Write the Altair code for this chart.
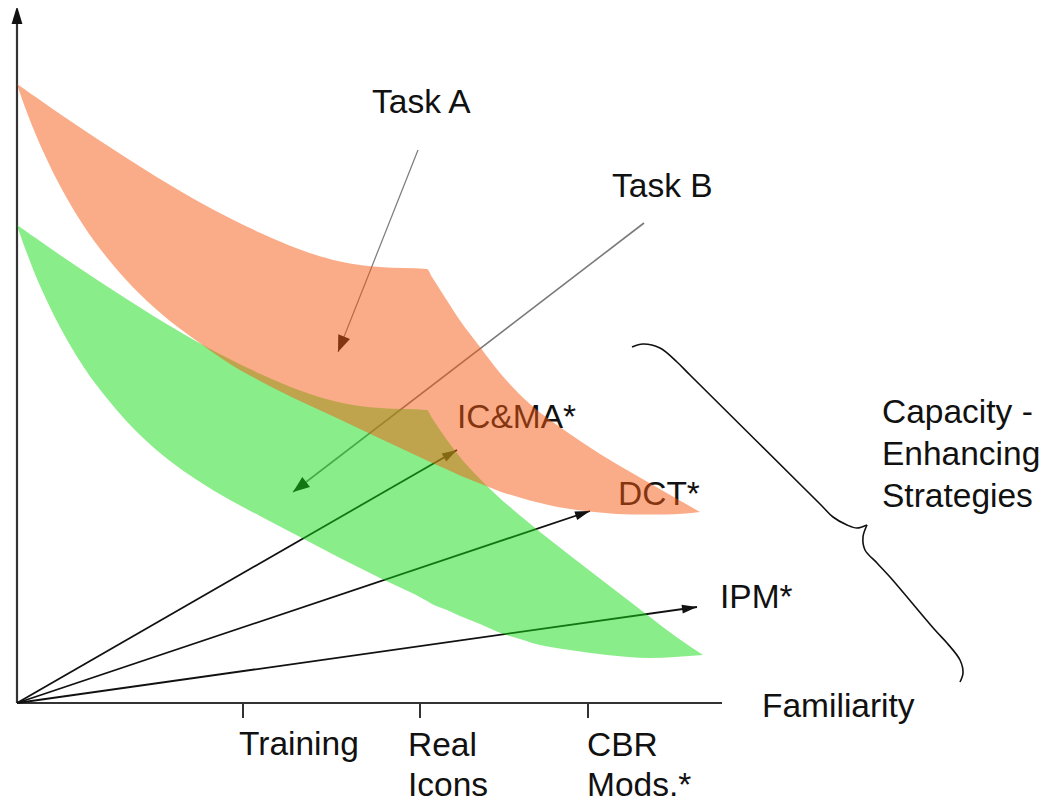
import math
import altair as alt
import pandas as pd

# ---------------- data (chart units: familiarity -> x, demand -> y) ----------------
orange_x = [0, 5, 11, 18, 30, 43, 66, 93, 123, 153, 180, 213, 243, 283, 323, 363, 410, 415,
            428, 443, 463, 483, 513, 550, 583, 616, 648, 683]
orange_hi = [619, 615.5, 611.3, 606.4, 598, 589.1, 573.5, 555.7, 536.5, 517.9, 502.2, 484.7, 470.3,
             453.5, 441.5, 435.9, 434, 426, 405.5, 382.5, 356, 330, 299, 271, 249, 229.5, 211, 191]
orange_lo = [619, 604, 587.8, 570.3, 543.3, 517.3, 478.2, 441.7, 408.7, 382, 362, 339, 322,
             302, 283.5, 264.5, 242.5, 240.2, 234.4, 227.6, 219.6, 211.6, 202.6, 194.5, 190.5, 188.5,
             188.5, 191]

green_x = [0, 5, 11, 18, 30, 43, 66, 93, 123, 153, 180, 213, 243, 283, 323, 363, 410, 415, 430,
           443, 463, 481, 503, 523, 553, 590, 633, 658, 686]
green_hi = [478, 474.5, 470.3, 465.4, 457, 448.1, 432.5, 414.7, 395.5, 376.9, 361.2, 343.7, 329.3,
            312.5, 300.5, 294.9, 293, 285, 263, 246, 224, 206.5, 187.5, 171, 147.5, 119, 86, 67, 48]
green_lo = [478, 463, 447, 429, 402, 376, 337, 301, 268, 242, 223, 203, 187, 166, 145, 125, 102, 99,
            93, 87, 79, 71, 64, 58, 53, 48, 45, 46, 48]

strategy_names = ["IC&MA*", "DCT*", "IPM*"]
strategy_tip_x = [440, 573, 680]
strategy_tip_y = [253, 192, 96]
strategy_label_x = [440, 601, 703]
strategy_label_y = [275, 198, 95]

task_names = ["Task A", "Task B"]
task_start_x = [401, 627]
task_start_y = [553, 480]
task_tip_x = [321, 276]
task_tip_y = [351, 211]
task_label_x = [355, 595]
task_label_y = [590, 506]

tick_labels = ["Training", "Real\nIcons", "CBR\nMods.*"]
tick_pos = [226, 403, 571]
tick_label_x = [222, 391, 570]
tick_label_y = [-52, -53, -53]

axis_x_end = 705
axis_y_end = 679
axis_y_tip = 697

brace_upper_x = [615, 626, 643, 660, 673, 803, 816, 830, 840, 850]
brace_upper_y = [356, 359, 355, 341, 328, 199, 186, 178, 175, 178]
brace_lower_x = [850, 846, 848, 860, 873, 918, 930, 943, 946, 943]
brace_lower_y = [178, 166, 153, 140, 126, 73, 60, 43, 30, 21]

side_text = "Capacity -\nEnhancing\nStrategies"
side_x, side_y = 865, 280
axis_title = "Familiarity"
axis_title_x, axis_title_y = 745, -14

# ---------------- helpers ----------------
FONT = "Liberation Sans"
FS = 33.5
xs = alt.Scale(domain=[-9, 1024], nice=False, zero=False)
ys = alt.Scale(domain=[-96, 695], nice=False, zero=False)
X = lambda f="x": alt.X(f"{f}:Q", scale=xs, axis=None)
Y = lambda f="y": alt.Y(f"{f}:Q", scale=ys, axis=None)


def heading(x0, y0, x1, y1):
    return math.degrees(math.atan2(x1 - x0, y1 - y0)) % 360


HEAD = "M0,0L-0.3,1L0.3,1Z"
HEAD_WIDE = "M0,0L-0.38,1L0.38,1Z"

# ---------------- axes ----------------
axes_df = pd.DataFrame({"x": [0, 0], "y": [0, 0], "x2": [axis_x_end, 0], "y2": [0, axis_y_end]})
axes = alt.Chart(axes_df).mark_rule(color="#333333", strokeWidth=2.2).encode(
    x=X(), y=Y(), x2="x2:Q", y2="y2:Q")

yhead_df = pd.DataFrame({"x": [0], "y": [axis_y_tip], "a": [0.0]})
yhead = alt.Chart(yhead_df).mark_point(shape=HEAD, filled=True, size=1296, color="#111111",
                                       opacity=1, strokeWidth=0).encode(
    x=X(), y=Y(), angle=alt.Angle("a:Q", scale=None))

ticks_df = pd.DataFrame({"x": tick_pos, "y": [0] * 3, "y2": [-15] * 3})
ticks = alt.Chart(ticks_df).mark_rule(color="#333333", strokeWidth=2).encode(
    x=X(), y=Y(), y2="y2:Q")

tick_text_df = pd.DataFrame({"x": tick_label_x, "y": tick_label_y, "t": tick_labels})
tick_text = alt.Chart(tick_text_df).mark_text(
    align="left", baseline="alphabetic", font=FONT, fontSize=FS, lineBreak="\n",
    lineHeight=40, color="#111111").encode(x=X(), y=Y(), text="t:N")

# ---------------- strategy arrows ----------------
s_df = pd.DataFrame({"x": [0] * 3, "y": [0] * 3, "x2": strategy_tip_x, "y2": strategy_tip_y})
s_lines = alt.Chart(s_df).mark_rule(color="#111111", strokeWidth=1.8).encode(
    x=X(), y=Y(), x2="x2:Q", y2="y2:Q")
s_head_df = pd.DataFrame({"x": strategy_tip_x, "y": strategy_tip_y,
                          "a": [heading(0, 0, a, b) for a, b in zip(strategy_tip_x, strategy_tip_y)]})
s_heads = alt.Chart(s_head_df).mark_point(shape=HEAD, filled=True, size=900, color="#111111",
                                          opacity=1, strokeWidth=0).encode(
    x=X(), y=Y(), angle=alt.Angle("a:Q", scale=None))
s_text_df = pd.DataFrame({"x": strategy_label_x, "y": strategy_label_y, "t": strategy_names})
s_text = alt.Chart(s_text_df).mark_text(
    align="left", baseline="alphabetic", font=FONT, fontSize=FS, color="#111111").encode(
    x=X(), y=Y(), text="t:N")

# ---------------- task arrows ----------------
t_df = pd.DataFrame({"x": task_start_x, "y": task_start_y, "x2": task_tip_x, "y2": task_tip_y,
                     "w": [1.2, 1.6]})
t_lines = alt.Chart(t_df).mark_rule(color="#7a7a7a").encode(
    x=X(), y=Y(), x2="x2:Q", y2="y2:Q", strokeWidth=alt.StrokeWidth("w:Q", scale=None))
t_head_df = pd.DataFrame({"x": task_tip_x, "y": task_tip_y,
                          "a": [heading(a, b, c, d) for a, b, c, d in
                                zip(task_start_x, task_start_y, task_tip_x, task_tip_y)]})
t_heads = alt.Chart(t_head_df).mark_point(shape=HEAD_WIDE, filled=True, size=1100, color="#111111",
                                          opacity=1, strokeWidth=0).encode(
    x=X(), y=Y(), angle=alt.Angle("a:Q", scale=None))
t_text_df = pd.DataFrame({"x": task_label_x, "y": task_label_y, "t": task_names})
t_text = alt.Chart(t_text_df).mark_text(
    align="left", baseline="alphabetic", font=FONT, fontSize=FS, color="#111111").encode(
    x=X(), y=Y(), text="t:N")

# ---------------- brace & side text ----------------
b_df = pd.DataFrame({
    "x": brace_upper_x + brace_lower_x,
    "y": brace_upper_y + brace_lower_y,
    "part": ["u"] * len(brace_upper_x) + ["l"] * len(brace_lower_x),
    "o": list(range(len(brace_upper_x))) + list(range(len(brace_lower_x))),
})
brace = alt.Chart(b_df).mark_line(color="#111111", strokeWidth=1.6, interpolate="catmull-rom").encode(
    x=X(), y=Y(), detail="part:N", order="o:Q")

side_df = pd.DataFrame({"x": [side_x, axis_title_x], "y": [side_y, axis_title_y],
                        "t": [side_text, axis_title]})
side = alt.Chart(side_df).mark_text(
    align="left", baseline="alphabetic", font=FONT, fontSize=FS, lineBreak="\n",
    lineHeight=42, color="#111111").encode(x=X(), y=Y(), text="t:N")

# ---------------- bands (drawn on top, translucent) ----------------
g_df = pd.DataFrame({"x": green_x, "hi": green_hi, "lo": green_lo})
green = alt.Chart(g_df).mark_area(color="#13DB13", opacity=0.5, interpolate="monotone",
                                  orient="vertical").encode(
    x=X(), y=Y("hi"), y2="lo:Q")
o_df = pd.DataFrame({"x": orange_x, "hi": orange_hi, "lo": orange_lo})
orange = alt.Chart(o_df).mark_area(color="#F55911", opacity=0.5, interpolate="monotone",
                                   orient="vertical").encode(
    x=X(), y=Y("hi"), y2="lo:Q")

chart = alt.layer(
    axes, yhead, ticks, tick_text, s_lines, s_heads, s_text, t_lines, t_heads, t_text,
    brace, side, green, orange
).properties(
    width=1033, height=791, padding=0, autosize=alt.AutoSizeParams(type="none"),
    background="white"
).configure_view(stroke=None)

chart.save("out.html", embed_options={"renderer": "svg", "actions": False})
